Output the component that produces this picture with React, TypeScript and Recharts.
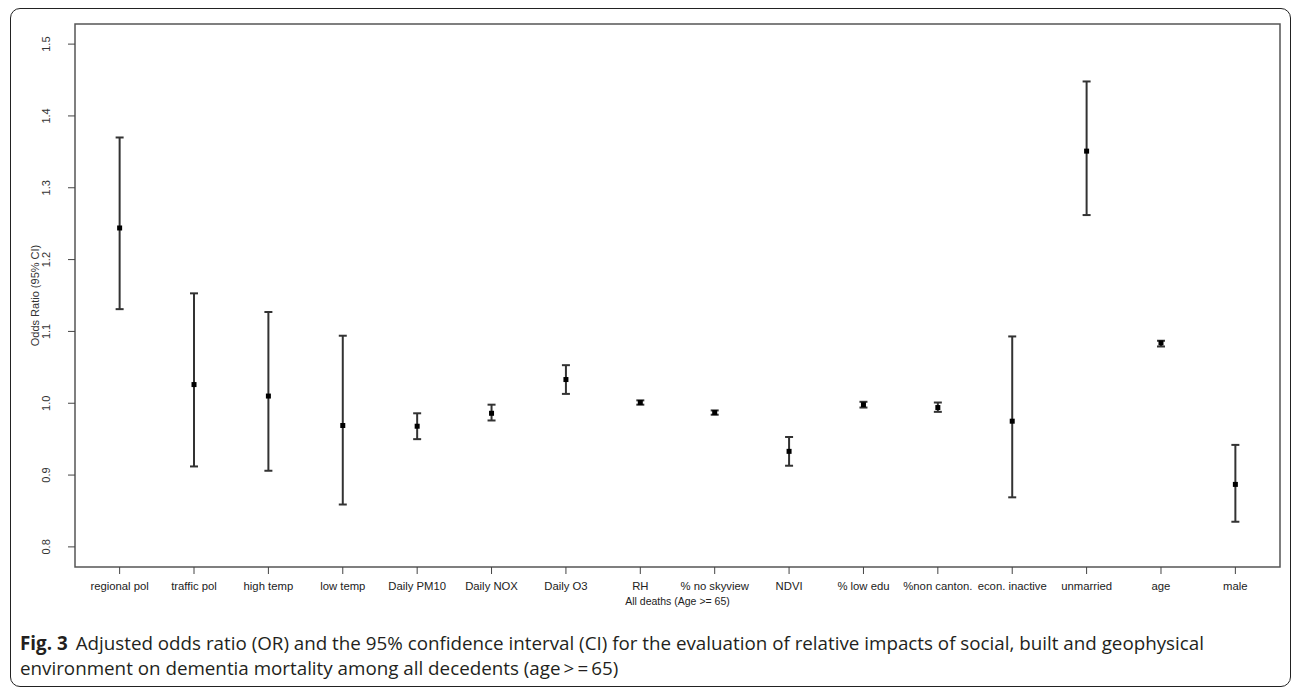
import React from 'react';
import { ComposedChart, Scatter, ErrorBar, XAxis, YAxis, ReferenceArea, Label } from 'recharts';

const categories = [
  'regional pol', 'traffic pol', 'high temp', 'low temp', 'Daily PM10', 'Daily NOX', 'Daily O3', 'RH',
  '% no skyview', 'NDVI', '% low edu', '%non canton.', 'econ. inactive', 'unmarried', 'age', 'male',
];
const oddsRatio = [1.244, 1.026, 1.010, 0.969, 0.968, 0.986, 1.033, 1.001, 0.987, 0.933, 0.998, 0.994, 0.975, 1.351, 1.084, 0.887];
const lowerCI = [1.131, 0.912, 0.906, 0.859, 0.950, 0.976, 1.013, 0.998, 0.984, 0.913, 0.994, 0.988, 0.869, 1.262, 1.079, 0.835];
const upperCI = [1.370, 1.153, 1.127, 1.094, 0.986, 0.998, 1.053, 1.004, 0.990, 0.953, 1.002, 1.001, 1.093, 1.448, 1.087, 0.942];
const yTicks = [0.8, 0.9, 1.0, 1.1, 1.2, 1.3, 1.4, 1.5];
const yDomain = [0.772, 1.528];
const xDomain = [0.4, 16.6];

const xTicks = categories.map((_, i) => i + 1);
const data = categories.map((name, i) => ({
  x: i + 1,
  name,
  or: oddsRatio[i],
  err: [oddsRatio[i] - lowerCI[i], upperCI[i] - oddsRatio[i]],
}));

const FONT = '"Liberation Sans", Arial, sans-serif';

const SquareDot = (props: any) => {
  const { cx, cy } = props;
  if (cx == null || cy == null) return null;
  return <rect x={cx - 2.5} y={cy - 2.5} width={5} height={5} fill="#000" />;
};

const YTick = (props: any) => {
  const { x, y, payload } = props;
  return (
    <text
      x={x}
      y={y}
      transform={`rotate(-90 ${x} ${y})`}
      textAnchor="middle"
      dominantBaseline="central"
      fontSize={11}
      fontFamily={FONT}
      fill="#333"
    >
      {Number(payload.value).toFixed(1)}
    </text>
  );
};

const YTitle = (props: any) => {
  const vb = props.viewBox || {};
  const cy = (vb.y ?? 24) + (vb.height ?? 543) / 2;
  const cx = 35;
  return (
    <text
      x={cx}
      y={cy}
      transform={`rotate(-90 ${cx} ${cy})`}
      textAnchor="middle"
      dominantBaseline="central"
      fontSize={11}
      fontFamily={FONT}
      fill="#333"
    >
      Odds Ratio (95% CI)
    </text>
  );
};

export default function App() {
  return (
    <div style={{ position: 'absolute', left: 0, top: 0, width: 1292, height: 687, background: '#fff', overflow: 'hidden' }}>
      <div
        style={{
          position: 'absolute',
          left: 10,
          top: 8,
          width: 1279,
          height: 677,
          border: '1px solid #222',
          borderRadius: 10,
        }}
      />
      <div style={{ position: 'absolute', left: 0, top: 0 }}>
        <ComposedChart width={1292} height={615} data={data} margin={{ top: 24, right: 12, bottom: 8, left: 15 }}>
          <XAxis
            type="number"
            dataKey="x"
            domain={xDomain}
            ticks={xTicks}
            interval={0}
            allowDataOverflow
            height={40}
            axisLine={false}
            tickLine={{ stroke: '#444' }}
            tickSize={7}
            tickMargin={8}
            tick={{ fontSize: 11.3, fontFamily: FONT, fill: '#222' }}
            tickFormatter={(v: number) => categories[v - 1] ?? ''}
          >
            <Label
              value="All deaths (Age >= 65)"
              position="insideBottom"
              offset={2}
              style={{ fontSize: 10.5, fontFamily: FONT, fill: '#222' }}
            />
          </XAxis>
          <YAxis
            type="number"
            domain={yDomain}
            ticks={yTicks}
            interval={0}
            allowDataOverflow
            width={60}
            axisLine={false}
            tickLine={{ stroke: '#444' }}
            tickSize={7}
            tickMargin={22}
            tick={<YTick />}
          >
            <Label content={<YTitle />} />
          </YAxis>
          <ReferenceArea
            x1={xDomain[0]}
            x2={xDomain[1]}
            y1={yDomain[0]}
            y2={yDomain[1]}
            fill="none"
            fillOpacity={0}
            stroke="#555"
            strokeWidth={1.5}
            ifOverflow="visible"
          />
          <Scatter dataKey="or" isAnimationActive={false} shape={<SquareDot />}>
            <ErrorBar dataKey="err" direction="y" width={4} stroke="#333" strokeWidth={2} isAnimationActive={false} />
          </Scatter>
        </ComposedChart>
      </div>
      <div
        style={{
          position: 'absolute',
          left: 20,
          top: 631,
          fontFamily: '"Open Sans", "Noto Sans", sans-serif',
          fontSize: 18.8,
          lineHeight: '25px',
          color: '#231f20',
          whiteSpace: 'nowrap',
        }}
      >
        <div>
          <b>Fig. 3</b>
          <span style={{ marginLeft: 8 }}>
            Adjusted odds ratio (OR) and the 95% confidence interval (CI) for the evaluation of relative impacts of social, built and geophysical
          </span>
        </div>
        <div>environment on dementia mortality among all decedents (age&#8201;&gt;&#8201;=&#8201;65)</div>
      </div>
    </div>
  );
}
